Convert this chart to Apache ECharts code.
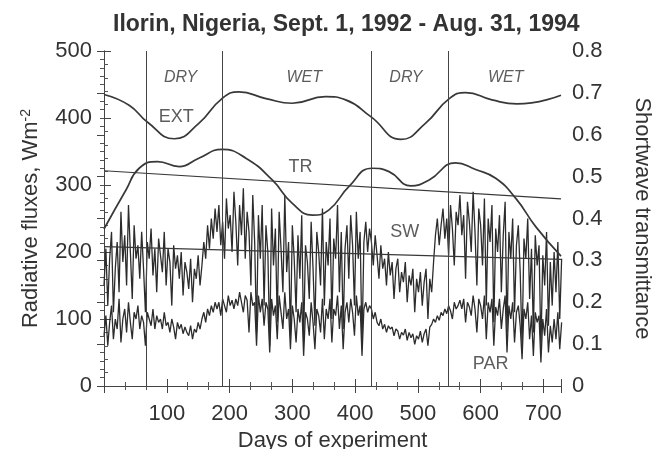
<!DOCTYPE html>
<html><head><meta charset="utf-8">
<script src="https://cdn.jsdelivr.net/npm/echarts@6/dist/echarts.min.js"></script>
<style>html,body{margin:0;padding:0;background:#fff}#c{width:655px;height:449px}</style>
</head><body><div id="c"></div>
<script>
// ---- data ----
const STEP = 3; // SW and PAR sampled every 3 days (day = index*STEP)
const swValues = [
150,205,120,190,230,110,175,215,140,260,
185,225,150,270,200,130,240,190,210,160,
230,175,110,215,190,235,165,205,140,220,
195,170,230,150,205,185,120,210,175,195,
160,200,135,185,170,145,190,125,175,160,
195,150,180,215,190,240,205,250,220,265,
230,270,210,245,190,280,235,255,200,290,
245,180,270,225,295,190,260,230,150,285,
215,80,255,190,270,120,240,200,60,265,
180,235,95,260,205,140,285,170,215,75,
240,190,110,225,160,255,70,210,185,130,
245,175,90,230,200,150,265,120,215,180,
250,100,220,190,270,140,230,85,205,240,
160,255,210,120,260,190,230,60,215,245,
200,235,215,180,225,195,160,210,175,190,
150,200,165,185,130,175,190,140,170,155,
185,125,165,150,175,110,160,140,170,120,
155,175,100,160,140,185,225,250,210,240,
265,220,250,195,270,235,180,260,240,285,
225,255,160,275,245,200,290,230,150,265,
240,180,280,120,250,215,270,95,235,200,
255,140,225,275,80,230,190,250,110,210,
240,170,60,220,190,250,130,205,80,225,
180,210,55,195,150,230,90,185,120,200,
140,215,100,190
];
const parValues = [
75,105,60,95,120,70,100,85,130,65,
100,115,80,125,95,70,110,100,120,85,
105,95,60,110,100,90,115,85,105,95,
100,85,110,90,95,80,100,88,70,95,
85,92,78,88,80,75,90,70,85,80,
95,85,100,110,95,115,105,120,110,125,
115,125,105,130,120,110,135,120,128,115,
130,120,140,125,110,135,128,80,140,120,
125,60,135,110,130,90,125,115,50,130,
105,120,70,135,110,85,140,100,115,55,
120,100,65,115,95,125,45,110,100,75,
125,95,55,115,105,80,130,70,115,100,
130,65,115,105,135,85,120,55,110,125,
95,130,110,75,135,105,120,45,115,125,
110,120,115,100,110,95,90,100,85,92,
80,90,85,88,75,85,82,70,80,76,
85,68,80,72,78,62,75,70,82,65,
78,85,60,88,92,100,95,105,98,110,
105,115,108,120,112,100,125,115,120,128,
115,130,95,125,118,105,135,115,80,130,
120,100,135,70,125,110,130,60,118,105,
130,85,115,135,50,120,100,125,65,110,
120,90,40,115,100,125,70,105,45,110,
95,105,35,100,75,115,50,90,65,100,
70,110,55,95
];
const extDays   = [0,40,69,112,151,188,215,258,300,353,385,425,473,512,550,576,618,658,728];
const extValues = [435,419,394,369,392,429,439,429,422,432,427,402,368,392,429,438,427,421,434];
const trDays    = [0,35,56,85,120,151,188,226,268,300,332,358,390,427,454,489,518,560,592,624,656,688,728];
const trValues  = [0.375,0.468,0.520,0.536,0.524,0.544,0.565,0.544,0.492,0.436,0.408,0.420,0.476,0.520,0.512,0.478,0.492,0.533,0.517,0.496,0.448,0.380,0.310];
const trTrendDays = [0,728];
const trTrendValues = [0.514,0.447];
const swTrendDays = [0,728];
const swTrendValues = [208,189];
const seasonBoundaries = [68,188,426,548];
const seasonLabels = ['DRY','WET','DRY','WET'];
const seasonLabelDays = [122,319,481,640];
const seriesLabels = ['EXT','TR','SW','PAR'];
const seriesLabelDays = [115,313,479,616];
const seriesLabelValues = [402,327,230,33];
const xTicks = [100,200,300,400,500,600,700];
const leftTicks = [0,100,200,300,400,500];
const rightTicks = [0,0.1,0.2,0.3,0.4,0.5,0.6,0.7,0.8];

// ---- chart ----
const FONT = '"Liberation Sans", Arial, sans-serif';
const INK = '#333';
const LINE = '#383838';
const FS = 22;
const pair = (xs, ys) => xs.map((x, i) => [x, ys[i]]);
const stepped = vals => vals.map((v, i) => [i * STEP, v]);

const chart = echarts.init(document.getElementById('c'), null, {renderer: 'canvas'});
const axisCommon = {
  axisLine: {show: true, lineStyle: {color: '#444', width: 1}},
  axisTick: {show: true, inside: true, length: 7, lineStyle: {color: '#444'}},
  minorTick: {show: true, length: 4, lineStyle: {color: '#555'}},
  splitLine: {show: false}
};
chart.setOption({
  animation: false,
  backgroundColor: '#fff',
  title: {
    text: 'Ilorin, Nigeria, Sept. 1, 1992 - Aug. 31, 1994',
    left: 108, top: 8,
    textStyle: {fontFamily: FONT, fontSize: 23, fontWeight: 'bold', color: INK}
  },
  grid: {left: 104, right: 94, top: 51, bottom: 63, containLabel: false, outerBoundsMode: 'none'},
  xAxis: [
    Object.assign({}, axisCommon, {
      type: 'value', min: 0, max: 728, interval: 100, position: 'bottom',
      minorTick: Object.assign({}, axisCommon.minorTick, {splitNumber: 3}),
      axisLabel: {
        fontFamily: FONT, fontSize: FS, color: INK, margin: 17,
        showMinLabel: false, showMaxLabel: false,
        formatter: v => (xTicks.indexOf(v) >= 0 ? String(v) : '')
      },
      name: 'Days of experiment', nameLocation: 'middle', nameGap: 35,
      nameTextStyle: {fontFamily: FONT, fontSize: FS, color: INK}
    }),
    Object.assign({}, axisCommon, {
      type: 'value', min: 0, max: 728, interval: 100, position: 'top',
      minorTick: Object.assign({}, axisCommon.minorTick, {splitNumber: 3}),
      axisLabel: {show: false}
    })
  ],
  yAxis: [
    Object.assign({}, axisCommon, {
      type: 'value', min: 0, max: 500, interval: 100, position: 'left',
      minorTick: Object.assign({}, axisCommon.minorTick, {splitNumber: 5}),
      axisLabel: {
        fontFamily: FONT, fontSize: FS, color: INK, margin: 12,
        formatter: v => (leftTicks.indexOf(v) >= 0 ? String(v) : '')
      },
      name: '{a|Radiative fluxes, Wm}{s|-2}', nameLocation: 'middle', nameGap: 61, nameRotate: 90,
      nameTextStyle: {
        fontFamily: FONT, fontSize: FS, color: INK,
        rich: {
          a: {fontFamily: FONT, fontSize: FS, color: INK},
          s: {fontFamily: FONT, fontSize: 14, color: INK, verticalAlign: 'top', padding: [0, 0, 10, 0]}
        }
      }
    }),
    Object.assign({}, axisCommon, {
      type: 'value', min: 0, max: 0.8, interval: 0.1, position: 'right',
      minorTick: Object.assign({}, axisCommon.minorTick, {splitNumber: 5}),
      axisLabel: {
        fontFamily: FONT, fontSize: FS, color: INK, margin: 11,
        formatter: v => {
          const r = Math.round(v * 10) / 10;
          return r === 0 ? '0' : r.toFixed(1);
        }
      },
      name: 'Shortwave transmittance', nameLocation: 'middle', nameGap: 70, nameRotate: -90,
      nameTextStyle: {fontFamily: FONT, fontSize: FS, color: INK}
    })
  ],
  series: [
    {
      type: 'line', name: 'SW', data: stepped(swValues), showSymbol: false,
      lineStyle: {color: '#2c2c2c', width: 1.3}, z: 2
    },
    {
      type: 'line', name: 'PAR', data: stepped(parValues), showSymbol: false,
      lineStyle: {color: '#2c2c2c', width: 1.3}, z: 2
    },
    {
      type: 'line', name: 'EXT', data: pair(extDays, extValues), smooth: 0.5, showSymbol: false,
      lineStyle: {color: LINE, width: 1.7}, z: 3,
      markLine: {
        silent: true, symbol: 'none', label: {show: false},
        lineStyle: {color: '#444', width: 1, type: 'solid'},
        data: seasonBoundaries.map(d => ({xAxis: d}))
      }
    },
    {
      type: 'line', name: 'TR', yAxisIndex: 1, data: pair(trDays, trValues), smooth: 0.5, showSymbol: false,
      lineStyle: {color: LINE, width: 1.7}, z: 3
    },
    {
      type: 'line', name: 'TR trend', yAxisIndex: 1, data: pair(trTrendDays, trTrendValues), showSymbol: false,
      lineStyle: {color: LINE, width: 1.2}, z: 3
    },
    {
      type: 'line', name: 'SW trend', data: pair(swTrendDays, swTrendValues), showSymbol: false,
      lineStyle: {color: LINE, width: 1.2}, z: 3
    },
    {
      type: 'scatter', name: 'season labels', symbolSize: 0, silent: true,
      data: seasonLabelDays.map((d, i) => ({value: [d, 461], name: seasonLabels[i]})),
      label: {show: true, position: 'inside', formatter: p => p.name,
        fontFamily: FONT, fontSize: 16, fontStyle: 'italic', color: INK}, z: 5
    },
    {
      type: 'scatter', name: 'series labels', symbolSize: 0, silent: true,
      data: seriesLabelDays.map((d, i) => ({value: [d, seriesLabelValues[i]], name: seriesLabels[i]})),
      label: {show: true, position: 'inside', formatter: p => p.name,
        fontFamily: FONT, fontSize: 18, color: INK}, z: 5
    }
  ]
});
</script></body></html>
